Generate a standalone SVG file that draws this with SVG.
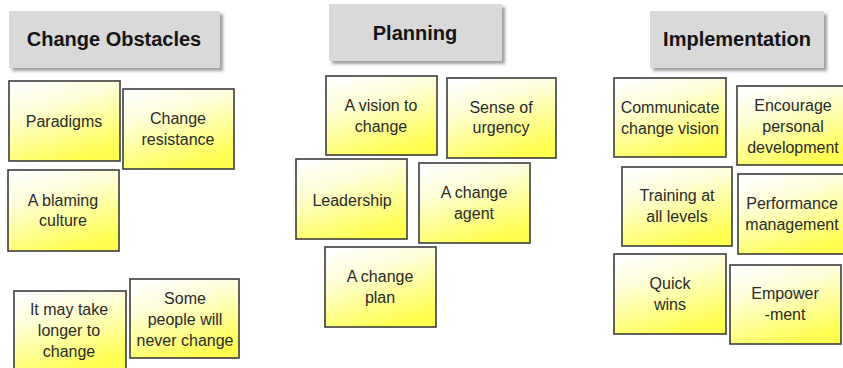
<svg xmlns="http://www.w3.org/2000/svg" width="843" height="368" viewBox="0 0 843 368">
  <defs>
    <!-- sticky-note fill: pale at the top-left, yellow towards the bottom -->
    <linearGradient id="noteFill" x1="0.15" y1="0" x2="0.55" y2="1">
      <stop offset="0" stop-color="#ffffff"/>
      <stop offset="0.35" stop-color="#ffffd8"/>
      <stop offset="1" stop-color="#ffff50"/>
    </linearGradient>
    <filter id="headShadow" x="-10%" y="-20%" width="125%" height="150%">
      <feDropShadow dx="3" dy="3" stdDeviation="1.6" flood-color="#606060" flood-opacity="0.6"/>
    </filter>
  </defs>
  <style>
    .head rect { fill: #d9d9d9; filter: url(#headShadow); }
    .head text { font-family: "Liberation Sans", Arial, sans-serif; font-weight: bold; font-size: 20px; fill: #141414; text-anchor: middle; }
    .note rect { fill: url(#noteFill); stroke: #3c3c3c; stroke-width: 1.6; }
    .note text { font-family: "Liberation Sans", Arial, sans-serif; font-size: 16px; fill: #2a2a2a; text-anchor: middle; }
  </style>
  <rect width="843" height="368" fill="#ffffff"/>

  <!-- column headers -->
  <g id="head-obstacles" class="head">
    <rect x="9" y="11" width="211" height="57"/>
    <text x="114" y="46">Change Obstacles</text>
  </g>
  <g id="head-planning" class="head">
    <rect x="329" y="4" width="173" height="57"/>
    <text x="415" y="40">Planning</text>
  </g>
  <g id="head-implementation" class="head">
    <rect x="650" y="11" width="174" height="57"/>
    <text x="737" y="46">Implementation</text>
  </g>

  <!-- Change Obstacles notes -->
  <g id="note-paradigms" class="note">
    <rect x="9" y="81" width="111" height="80"/>
    <text x="64" y="127">Paradigms</text>
  </g>
  <g id="note-resistance" class="note">
    <rect x="123" y="89" width="111" height="80"/>
    <text x="178" y="124">Change</text>
    <text x="178" y="145">resistance</text>
  </g>
  <g id="note-blaming" class="note">
    <rect x="8" y="170" width="111" height="81"/>
    <text x="63" y="206">A blaming</text>
    <text x="63" y="226">culture</text>
  </g>
  <g id="note-longer" class="note">
    <rect x="14" y="291" width="112" height="80"/>
    <text x="69" y="315">It may take</text>
    <text x="69" y="336">longer to</text>
    <text x="69" y="357">change</text>
  </g>
  <g id="note-never" class="note">
    <rect x="130" y="279" width="109" height="79"/>
    <text x="185" y="304">Some</text>
    <text x="185" y="325">people will</text>
    <text x="185" y="346">never change</text>
  </g>

  <!-- Planning notes -->
  <g id="note-vision" class="note">
    <rect x="326" y="76" width="111" height="79"/>
    <text x="381" y="111">A vision to</text>
    <text x="381" y="132">change</text>
  </g>
  <g id="note-urgency" class="note">
    <rect x="447" y="78" width="109" height="80"/>
    <text x="501" y="113">Sense of</text>
    <text x="501" y="133">urgency</text>
  </g>
  <g id="note-leadership" class="note">
    <rect x="296" y="159" width="111" height="80"/>
    <text x="352" y="206">Leadership</text>
  </g>
  <g id="note-agent" class="note">
    <rect x="419" y="163" width="111" height="80"/>
    <text x="474" y="198">A change</text>
    <text x="474" y="219">agent</text>
  </g>
  <g id="note-plan" class="note">
    <rect x="325" y="247" width="111" height="80"/>
    <text x="380" y="282">A change</text>
    <text x="380" y="303">plan</text>
  </g>

  <!-- Implementation notes -->
  <g id="note-communicate" class="note">
    <rect x="614" y="78" width="112" height="79"/>
    <text x="670" y="113">Communicate</text>
    <text x="670" y="134">change vision</text>
  </g>
  <g id="note-development" class="note">
    <rect x="737" y="86" width="111" height="79"/>
    <text x="793" y="111">Encourage</text>
    <text x="793" y="132">personal</text>
    <text x="793" y="153">development</text>
  </g>
  <g id="note-training" class="note">
    <rect x="622" y="167" width="110" height="79"/>
    <text x="677" y="201">Training at</text>
    <text x="677" y="222">all levels</text>
  </g>
  <g id="note-performance" class="note">
    <rect x="738" y="174" width="111" height="80"/>
    <text x="792" y="209">Performance</text>
    <text x="792" y="230">management</text>
  </g>
  <g id="note-quickwins" class="note">
    <rect x="614" y="254" width="112" height="80"/>
    <text x="670" y="289">Quick</text>
    <text x="670" y="310">wins</text>
  </g>
  <g id="note-empower" class="note">
    <rect x="730" y="265" width="111" height="79"/>
    <text x="785" y="299">Empower</text>
    <text x="785" y="320">-ment</text>
  </g>
</svg>
